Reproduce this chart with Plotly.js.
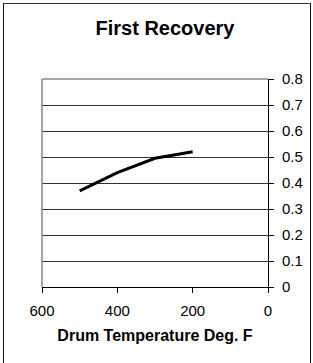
<!DOCTYPE html>
<html>
<head>
<meta charset="utf-8">
<script src="https://cdn.plot.ly/plotly-3.0.1.min.js"></script>
<style>
  html, body { margin: 0; padding: 0; background: #fff; }
  #wrap { position: relative; width: 313px; height: 363px; overflow: hidden; }
  #chart { position: absolute; left: 0; top: 0; width: 313px; height: 363px; }
  #frame { position: absolute; left: 3px; top: 3px; width: 306px; height: 400px;
           border-left: 1px solid #111; border-top: 1px solid #333; border-right: 1px solid #111;
           pointer-events: none; }
</style>
</head>
<body>
<div id="wrap">
  <div id="chart"></div>
  <div id="frame"></div>
</div>
<script>
const chartTitle = "First Recovery";
const xTitle = "Drum Temperature Deg. F";
const temperature = [500, 400, 300, 200];
const recovery = [0.37, 0.44, 0.495, 0.52];
const xTickVals = [600, 400, 200, 0];
const yTickVals = [0, 0.1, 0.2, 0.3, 0.4, 0.5, 0.6, 0.7, 0.8];

const font = "Liberation Sans, Arial, sans-serif";

Plotly.newPlot("chart", [{
  x: temperature,
  y: recovery,
  type: "scatter",
  mode: "lines",
  line: { color: "#000", width: 3 },
  hoverinfo: "skip",
  showlegend: false
}], {
  width: 313,
  height: 363,
  margin: { l: 42, r: 45, t: 79, b: 76, pad: 0 },
  paper_bgcolor: "#fff",
  plot_bgcolor: "#fff",
  title: {
    text: "<b>" + chartTitle + "</b>",
    font: { family: font, size: 20, color: "#000" },
    xref: "container", x: 165 / 313, xanchor: "center",
    yref: "container", y: 1 - 28 / 363, yanchor: "middle"
  },
  xaxis: {
    range: [600, 0],
    tickvals: xTickVals,
    ticktext: xTickVals.map(String),
    ticks: "outside", ticklen: 5, tickcolor: "#000", tickwidth: 1,
    ticklabelstandoff: 5,
    showline: true, linecolor: "#000", linewidth: 1,
    showgrid: false, zeroline: false,
    tickfont: { family: font, size: 15, color: "#000" },
    title: { text: "<b>" + xTitle + "</b>", font: { family: font, size: 16, color: "#000" }, standoff: 11 },
    fixedrange: true
  },
  yaxis: {
    range: [0, 0.8],
    side: "right",
    tickvals: yTickVals,
    ticktext: yTickVals.map(String),
    ticks: "outside", ticklen: 5, tickcolor: "#000", tickwidth: 1,
    ticklabelstandoff: 5,
    showline: true, linecolor: "#000", linewidth: 1,
    showgrid: true, gridcolor: "#333", gridwidth: 1,
    zeroline: false,
    tickfont: { family: font, size: 15, color: "#000" },
    fixedrange: true
  },
  shapes: [{
    type: "line", xref: "paper", yref: "paper", x0: 0, x1: 0, y0: 0, y1: 1,
    line: { color: "#888", width: 1.5 }
  }, {
    type: "line", xref: "paper", yref: "paper", x0: 0, x1: 1, y0: 1, y1: 1,
    line: { color: "#888", width: 1.5 }
  }]
}, { staticPlot: true, displayModeBar: false });
</script>
</body>
</html>
